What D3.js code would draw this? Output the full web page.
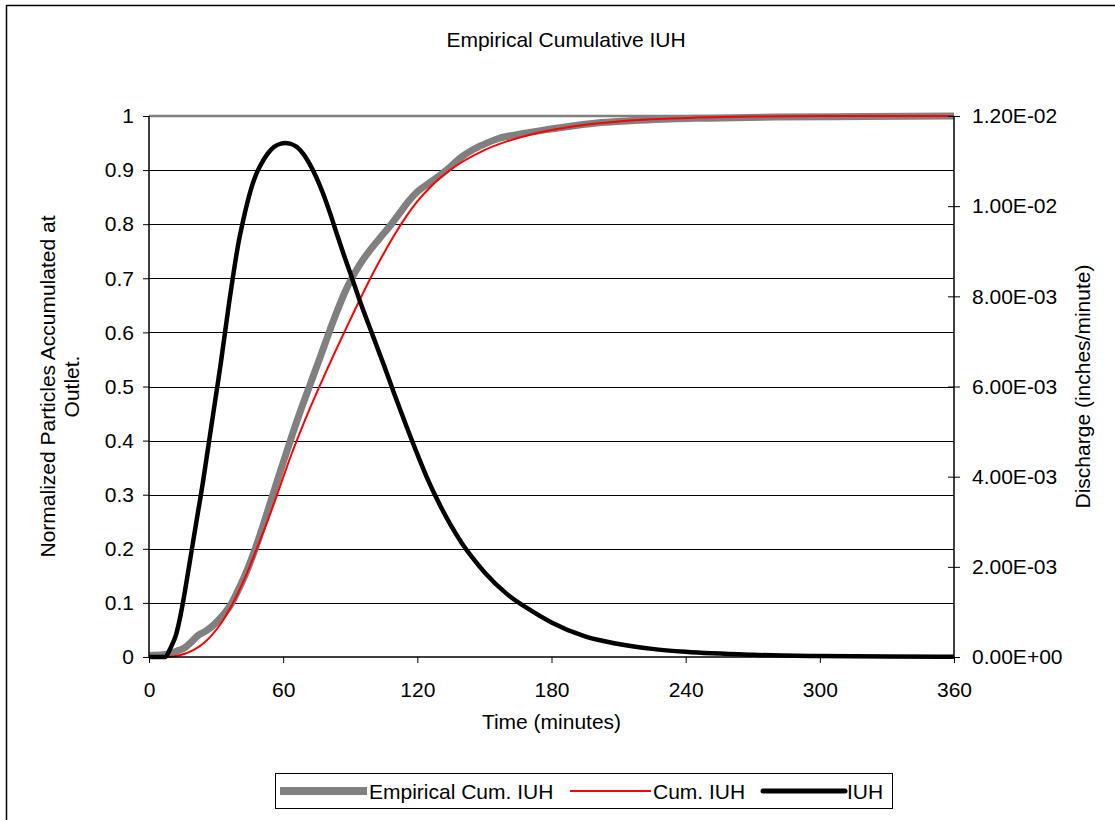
<!DOCTYPE html>
<html>
<head>
<meta charset="utf-8">
<script src="https://cdn.jsdelivr.net/npm/d3@7"></script>
<style>
  body { margin: 0; background: #fff; }
  svg text { font-family: "Liberation Sans", Arial, sans-serif; fill: #000; font-size: 21px; }
</style>
</head>
<body>
<svg id="chart" width="1115" height="820"></svg>
<script>
// empirical cumulative
var empTime = [0, 6, 10, 13, 16, 19, 22, 25, 28, 31, 34, 37, 40, 43, 46, 49, 52, 55, 58, 61, 64, 68, 72, 76, 80, 84, 88, 92, 96, 100, 104, 108, 112, 116, 120, 125, 130, 135, 140, 145, 150, 156, 165, 178, 190, 200, 215, 230, 250, 280, 320, 360];
var empValue = [0.003, 0.004, 0.007, 0.012, 0.017, 0.028, 0.04, 0.047, 0.056, 0.068, 0.082, 0.1, 0.125, 0.152, 0.183, 0.218, 0.256, 0.295, 0.334, 0.372, 0.41, 0.458, 0.503, 0.548, 0.594, 0.638, 0.678, 0.71, 0.736, 0.758, 0.778, 0.798, 0.82, 0.842, 0.86, 0.875, 0.89, 0.907, 0.925, 0.938, 0.948, 0.958, 0.966, 0.975, 0.982, 0.987, 0.991, 0.994, 0.996, 0.998, 0.999, 1.0];

// cumulative IUH
var cumTime = [0, 8, 12, 16, 20, 24, 28, 32, 36, 40, 44, 48, 52, 56, 60, 64, 68, 72, 76, 80, 84, 88, 92, 96, 100, 105, 110, 115, 120, 125, 130, 135, 140, 150, 160, 170, 180, 195, 210, 225, 245, 270, 300, 360];
var cumValue = [0, 0, 0.002, 0.006, 0.013, 0.024, 0.04, 0.061, 0.088, 0.12, 0.157, 0.198, 0.24, 0.285, 0.332, 0.378, 0.42, 0.46, 0.498, 0.535, 0.571, 0.606, 0.641, 0.675, 0.708, 0.746, 0.782, 0.814, 0.842, 0.865, 0.885, 0.901, 0.915, 0.937, 0.953, 0.965, 0.974, 0.984, 0.99, 0.994, 0.997, 0.999, 1.0, 1.0];

// IUH discharge (inches/minute), right axis
var iuhTime = [0, 4, 7, 10, 12, 14, 16, 18, 20, 22, 24, 26, 28, 30, 32, 34, 36, 38, 40, 42, 44, 46, 48, 50, 53, 56, 59, 61, 63, 66, 69, 72, 75, 78, 81, 84, 87, 90, 95, 100, 105, 110, 115, 120, 125, 130, 135, 140, 145, 150, 160, 170, 180, 195, 210, 225, 240, 270, 300, 330, 360];
var iuhValue = [0, 0, 0, 0.00024, 0.00048, 0.0009, 0.00144, 0.00204, 0.00264, 0.00324, 0.00384, 0.0045, 0.00516, 0.00582, 0.00648, 0.0072, 0.00792, 0.00858, 0.00918, 0.00966, 0.01008, 0.01044, 0.010716, 0.01092, 0.01116, 0.011316, 0.011388, 0.0114, 0.011388, 0.011316, 0.01116, 0.01092, 0.01062, 0.01026, 0.00984, 0.009384, 0.00894, 0.00852, 0.0078, 0.00714, 0.00648, 0.005796, 0.005136, 0.0045, 0.0039, 0.00338, 0.00292, 0.00252, 0.00218, 0.00188, 0.0014, 0.001056, 0.000768, 0.000456, 0.000288, 0.00018, 0.000114, 0.000048, 0.0000216, 0.0000096, 0.0000036];

var xTicks = [0, 60, 120, 180, 240, 300, 360];
var leftTicks = [0, 0.1, 0.2, 0.3, 0.4, 0.5, 0.6, 0.7, 0.8, 0.9, 1];
var rightTicks = [0, 0.002, 0.004, 0.006, 0.008, 0.01, 0.012];

var legendItems = [
    {label: 'Empirical Cum. IUH', color: '#808080', width: 8, x: 5, w: 87},
    {label: 'Cum. IUH', color: '#ff0000', width: 2, x: 295, w: 81},
    {label: 'IUH', color: '#000000', width: 5, x: 488, w: 82}
];

var svg = d3.select('#chart');
var margin = {top: 116, right: 161, bottom: 163, left: 149};
var width = 1115, height = 820;
var plotW = width - margin.left - margin.right;
var plotH = height - margin.top - margin.bottom;

// outer chart border
svg.append('rect')
    .attr('x', 6.5).attr('y', 5.5)
    .attr('width', 1120).attr('height', 830)
    .attr('fill', 'none').attr('stroke', '#000').attr('stroke-width', 1.5);

var g = svg.append('g').attr('transform', 'translate(' + margin.left + ',' + margin.top + ')');

var xScale = d3.scaleLinear().domain([0, 360]).range([0, plotW]);
var yLeft = d3.scaleLinear().domain([0, 1]).range([plotH, 0]);
var yRight = d3.scaleLinear().domain([0, 0.012]).range([plotH, 0]);

function sciFormat(d) {
    if (d === 0) return '0.00E+00';
    var e = Math.floor(Math.log10(d) + 1e-9);
    var m = d / Math.pow(10, e);
    var sign = e < 0 ? '-' : '+';
    var ae = Math.abs(e);
    return m.toFixed(2) + 'E' + sign + (ae < 10 ? '0' + ae : ae);
}

// gridlines
g.selectAll('line.grid')
    .data(leftTicks.filter(function(d){ return d > 0 && d < 1; }))
    .enter().append('line')
        .attr('class', 'grid')
        .attr('x1', 0).attr('x2', plotW)
        .attr('y1', function(d){ return Math.round(yLeft(d)) + 0.5; })
        .attr('y2', function(d){ return Math.round(yLeft(d)) + 0.5; })
        .attr('stroke', '#000').attr('stroke-width', 1);

// top frame line (grey)
g.append('line')
    .attr('x1', 0).attr('x2', plotW)
    .attr('y1', 0).attr('y2', 0)
    .attr('stroke', '#808080').attr('stroke-width', 2.5);

// series
function lineOf(xs, ys, yScale) {
    return d3.line()
        .x(function(d, i){ return xScale(xs[i]); })
        .y(function(d, i){ return yScale(ys[i]); })
        .curve(d3.curveMonotoneX)(xs);
}

g.append('path')
    .attr('d', lineOf(empTime, empValue, yLeft))
    .attr('fill', 'none').attr('stroke', '#808080').attr('stroke-width', 7);

g.append('path')
    .attr('d', lineOf(cumTime, cumValue, yLeft))
    .attr('fill', 'none').attr('stroke', '#ff0000').attr('stroke-width', 2);

g.append('path')
    .attr('d', lineOf(iuhTime, iuhValue, yRight))
    .attr('fill', 'none').attr('stroke', '#000').attr('stroke-width', 4.5)
    .attr('stroke-linejoin', 'round');

// axes
var xAxis = d3.axisBottom(xScale).tickValues(xTicks).tickSize(6).tickPadding(19).tickFormat(d3.format('d'));
var yAxisL = d3.axisLeft(yLeft).tickValues(leftTicks).tickSize(6).tickPadding(9)
    .tickFormat(function(d){ return String(+d.toFixed(1)); });
var yAxisR = d3.axisRight(yRight).tickValues(rightTicks).tickSize(6).tickPadding(12).tickFormat(sciFormat);

var gx = g.append('g').attr('transform', 'translate(0,' + plotH + ')').call(xAxis);
var gl = g.append('g').call(yAxisL);
var gr = g.append('g').attr('transform', 'translate(' + plotW + ',0)').call(yAxisR);

[gx, gl, gr].forEach(function(a){
    a.select('.domain').attr('stroke', '#000').attr('stroke-width', 1.5);
    a.selectAll('.tick line').attr('stroke', '#000').attr('stroke-width', 1);
    a.selectAll('.tick text').style('font-size', '21px').style('font-family', '"Liberation Sans", Arial, sans-serif');
});
// right axis ticks cross the axis line
gr.selectAll('.tick line').attr('x1', -6);
gr.select('.domain').attr('d', 'M0,0V' + plotH);
gl.select('.domain').attr('d', 'M0,0V' + plotH);
gx.select('.domain').attr('d', 'M0,0H' + plotW);

// title
svg.append('text')
    .attr('x', 566).attr('y', 47)
    .attr('text-anchor', 'middle')
    .text('Empirical Cumulative IUH');

// axis titles
svg.append('text')
    .attr('x', margin.left + plotW / 2).attr('y', 729)
    .attr('text-anchor', 'middle')
    .text('Time (minutes)');

var leftTitle = svg.append('text')
    .attr('transform', 'translate(55,' + (margin.top + plotH / 2) + ') rotate(-90)')
    .attr('text-anchor', 'middle');
leftTitle.append('tspan').attr('x', 0).attr('dy', 0).text('Normalized Particles Accumulated at');
leftTitle.append('tspan').attr('x', 0).attr('dy', 24).text('Outlet.');

svg.append('text')
    .attr('transform', 'translate(1090,' + (margin.top + plotH / 2) + ') rotate(-90)')
    .attr('text-anchor', 'middle')
    .text('Discharge (inches/minute)');

// legend
var legend = svg.append('g').attr('transform', 'translate(275,773)');
legend.append('rect')
    .attr('x', 0.5).attr('y', 0.5).attr('width', 617).attr('height', 35)
    .attr('fill', '#fff').attr('stroke', '#000').attr('stroke-width', 1);

legendItems.forEach(function(item, i){
    legend.append('line')
        .attr('x1', item.x).attr('x2', item.x + item.w)
        .attr('y1', 18).attr('y2', 18)
        .attr('stroke', item.color).attr('stroke-width', item.width)
        .attr('stroke-linecap', i === 2 ? 'round' : 'butt');
    legend.append('text')
        .attr('x', item.x + item.w + 2).attr('y', 26)
        .text(item.label);
});
</script>
</body>
</html>
